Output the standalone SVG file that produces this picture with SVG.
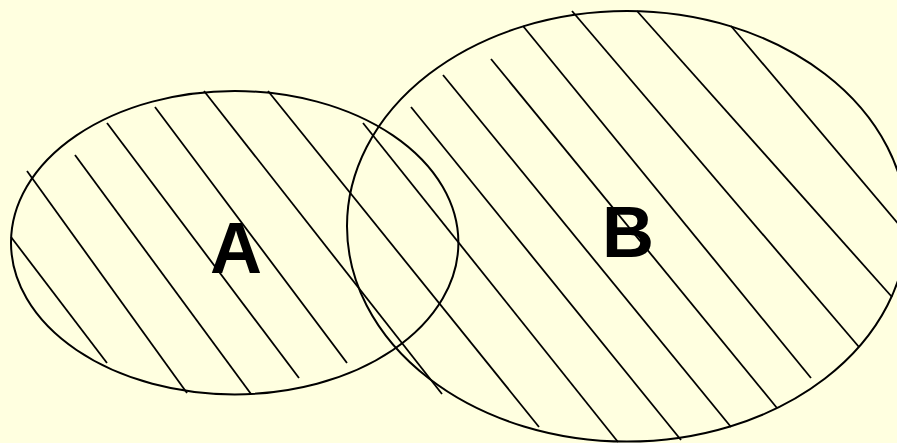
<svg xmlns="http://www.w3.org/2000/svg" width="897" height="443" viewBox="0 0 897 443">
<style>
.outline{fill:none;stroke:#000;stroke-width:2}
.hatch{fill:none;stroke:#000;stroke-width:1.8}
.label{font-family:"Liberation Sans",Arial,sans-serif;font-weight:bold;font-size:72px;fill:#000;text-anchor:middle}
</style>
<rect width="897" height="443" fill="#FFFFE0"/>
<g id="connectors"></g>
<g id="setA">
<ellipse class="outline" cx="234.7" cy="242.7" rx="223.7" ry="151.7"/>
<g class="hatch">
<line x1="11" y1="237" x2="107" y2="363"/>
<line x1="27" y1="171" x2="187" y2="393"/>
<line x1="75" y1="155" x2="251" y2="394"/>
<line x1="107" y1="123" x2="299" y2="378"/>
<line x1="155" y1="107" x2="347" y2="363"/>
<line x1="204" y1="91" x2="442" y2="394"/>
<line x1="268" y1="91" x2="539" y2="427"/>
</g>
<text class="label" x="236" y="273">A</text>
</g>
<g id="setB">
<ellipse class="outline" cx="627" cy="226.3" rx="280" ry="215.3"/>
<g class="hatch">
<line x1="363" y1="123" x2="618" y2="442"/>
<line x1="411" y1="107" x2="681" y2="440"/>
<line x1="443" y1="75" x2="731" y2="427"/>
<line x1="491" y1="59" x2="777" y2="408"/>
<line x1="523" y1="26" x2="811" y2="378"/>
<line x1="572" y1="11" x2="859" y2="347"/>
<line x1="637" y1="11" x2="892" y2="297"/>
<line x1="731" y1="26" x2="900" y2="226"/>
</g>
<text class="label" x="628" y="257">B</text>
</g>
</svg>
